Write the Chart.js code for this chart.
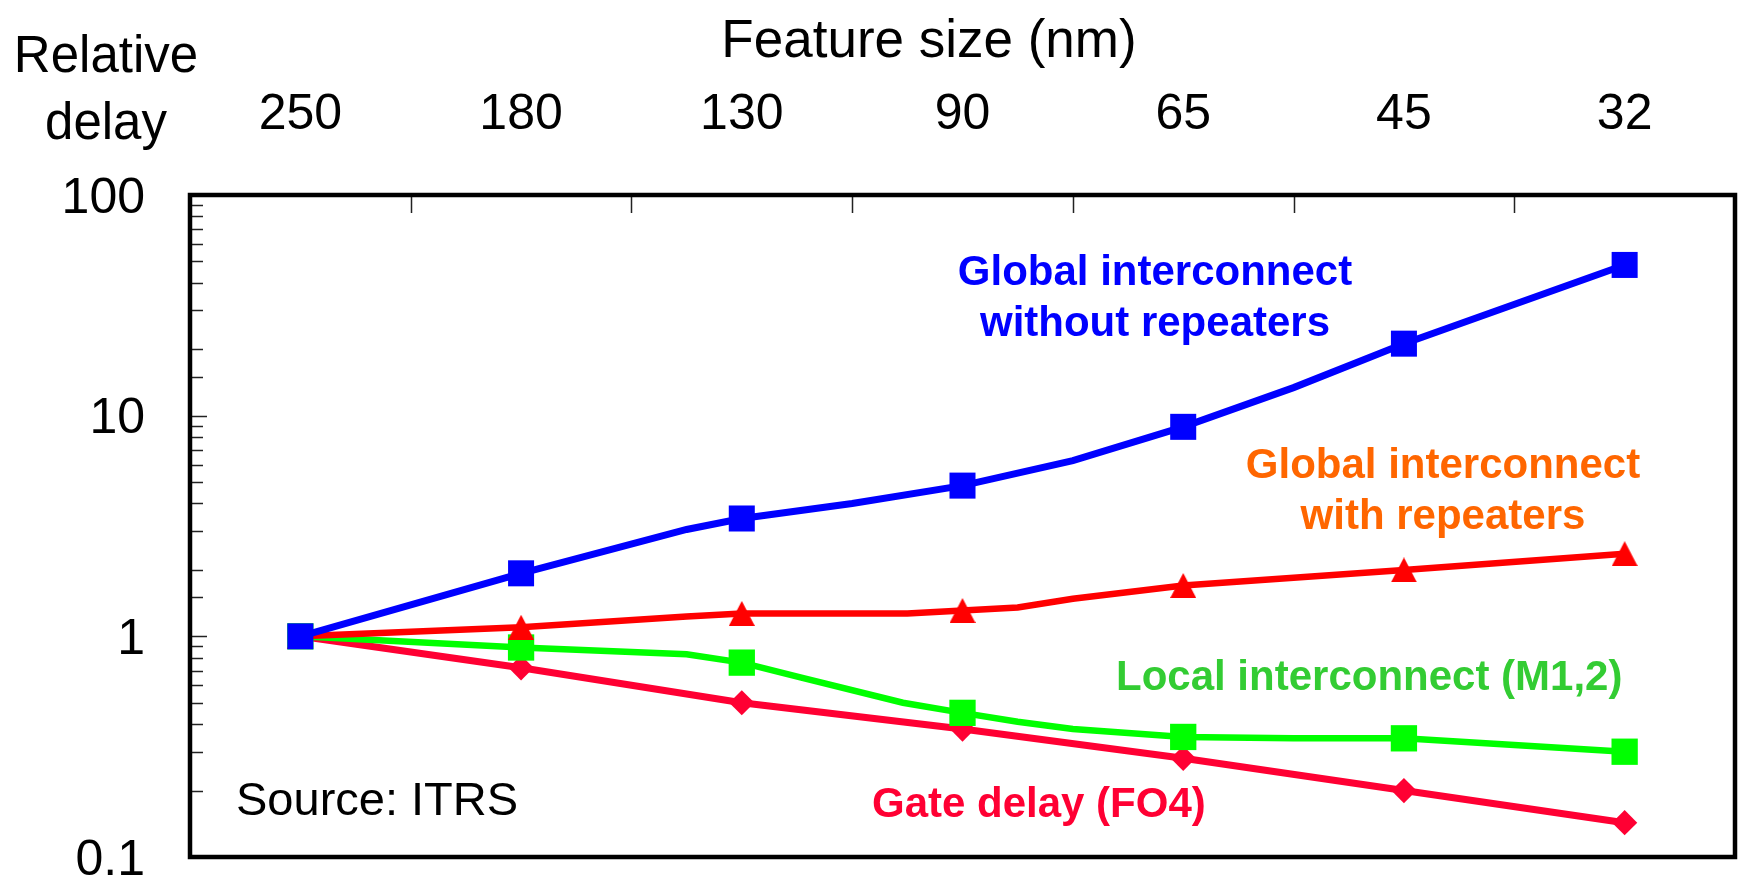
<!DOCTYPE html>
<html>
<head>
<meta charset="utf-8">
<script src="https://cdn.jsdelivr.net/npm/chart.js@4.4.1/dist/chart.umd.min.js"></script>
<style>
  html, body { margin: 0; padding: 0; background: #fff; overflow: hidden; }
  #wrap { width: 1739px; height: 881px; position: relative; }
</style>
</head>
<body>
<div id="wrap"><canvas id="grafico"></canvas></div>
<script>
const FONT = "'Liberation Sans', Arial, Helvetica, sans-serif";

const featureSizes = ['250', '180', '130', '90', '65', '45', '32'];

// x = node index (0 -> 250 nm); fractional x are the in-between nodes of the roadmap
const globalX = [0, 1, 1.75, 2, 2.5, 3, 3.5, 4, 4.5, 5, 6];
const globalY = [1, 1.93, 3.05, 3.42, 4.0, 4.82, 6.26, 8.9, 13.4, 21.2, 48.2];

const repeatX = [0, 1, 1.75, 2, 2.75, 3, 3.25, 3.5, 4, 5, 6];
const repeatY = [1, 1.10, 1.23, 1.27, 1.27, 1.31, 1.35, 1.48, 1.70, 2.0, 2.37];

const localX = [0, 1, 1.75, 2, 2.27, 2.73, 3, 3.25, 3.5, 4, 4.5, 5, 6];
const localY = [1, 0.89, 0.83, 0.76, 0.65, 0.50, 0.45, 0.41, 0.38, 0.35, 0.345, 0.345, 0.30];

const gateX = [0, 1, 2, 3, 4, 5, 6];
const gateY = [1, 0.72, 0.50, 0.38, 0.28, 0.20, 0.143];

const pts = (xs, ys) => xs.map((x, i) => ({ x: x, y: ys[i] }));
const onNode = c => c.raw && Number.isInteger(c.raw.x);
const isDecade = v => Math.abs(Math.log10(v) - Math.round(Math.log10(v))) < 1e-6;

// filled triangle used as marker for the repeater curve
function triangleMark(color, w, h) {
  const c = document.createElement('canvas');
  c.width = w; c.height = h;
  const g = c.getContext('2d');
  g.fillStyle = color;
  g.beginPath();
  g.moveTo(w / 2, 0);
  g.lineTo(w, h);
  g.lineTo(0, h);
  g.closePath();
  g.fill();
  return c;
}
const tri = triangleMark('#FF0000', 26, 25);

const notes = [
  { lines: ['Global interconnect', 'without repeaters'], color: '#0000FF', x: 1155, y: 285, align: 'center' },
  { lines: ['Global interconnect', 'with repeaters'], color: '#FF6600', x: 1443, y: 478, align: 'center' },
  { lines: ['Local interconnect (M1,2)'], color: '#33CC33', x: 1116, y: 690, align: 'left' },
  { lines: ['Gate delay (FO4)'], color: '#FF0033', x: 872, y: 817, align: 'left' }
];

// keep the plot box exactly where the axes put it, no room for label overhang
function fixBox(size, key) {
  return s => {
    s[key] = size;
    s.paddingLeft = 0; s.paddingRight = 0;
    s.paddingTop = 0; s.paddingBottom = 0;
  };
}

const frameAndTicks = {
  id: 'frameAndTicks',
  beforeDatasetsDraw(chart) {
    const { ctx, chartArea: a, scales: { x, y } } = chart;
    ctx.save();
    ctx.strokeStyle = '#222';
    ctx.lineWidth = 1.5;
    ctx.beginPath();
    y.ticks.forEach(t => {
      if (t.value <= y.min || t.value >= y.max) return;
      const py = Math.round(y.getPixelForValue(t.value)) + 0.5;
      ctx.moveTo(a.left, py);
      ctx.lineTo(a.left + (isDecade(t.value) ? 17 : 13), py);
    });
    for (let i = 0; i < featureSizes.length - 1; i++) {
      const px = Math.round(x.getPixelForValue(i + 0.5)) + 0.5;
      ctx.moveTo(px, a.top);
      ctx.lineTo(px, a.top + 18);
    }
    ctx.stroke();
    ctx.restore();
  },
  afterDraw(chart) {
    const { ctx, chartArea: a } = chart;
    ctx.save();
    ctx.strokeStyle = '#000';
    ctx.lineWidth = 4.5;
    ctx.strokeRect(a.left, a.top, a.right - a.left, a.bottom - a.top);

    ctx.fillStyle = '#000';
    ctx.textBaseline = 'alphabetic';
    ctx.textAlign = 'center';
    ctx.font = '53px ' + FONT;
    ctx.fillText('Feature size (nm)', 929, 57);
    ctx.font = '51px ' + FONT;
    ctx.fillText('Relative', 106, 72);
    ctx.fillText('delay', 106, 139);

    ctx.textAlign = 'left';
    ctx.font = '47px ' + FONT;
    ctx.fillText('Source: ITRS', 236, 815);

    ctx.font = 'bold 42px ' + FONT;
    notes.forEach(n => {
      ctx.fillStyle = n.color;
      ctx.textAlign = n.align;
      n.lines.forEach((s, i) => ctx.fillText(s, n.x, n.y + i * 51));
    });
    ctx.restore();
  }
};

const ctx = document.getElementById('grafico');

new Chart(ctx, {
  type: 'line',
  data: {
    datasets: [{
      label: 'Global interconnect without repeaters',
      data: pts(globalX, globalY),
      borderColor: '#0000FF',
      backgroundColor: '#0000FF',
      borderWidth: 7,
      pointStyle: 'rect',
      pointRadius: c => onNode(c) ? 18.4 : 0,
      pointBorderWidth: 0
    }, {
      label: 'Global interconnect with repeaters',
      data: pts(repeatX, repeatY),
      borderColor: '#FF0000',
      backgroundColor: '#FF0000',
      borderWidth: 6.5,
      pointStyle: tri,
      pointRadius: c => onNode(c) ? 13 : 0,
      pointBorderWidth: 0
    }, {
      label: 'Local interconnect (M1,2)',
      data: pts(localX, localY),
      borderColor: '#00FF00',
      backgroundColor: '#00FF00',
      borderWidth: 6.5,
      pointStyle: 'rect',
      pointRadius: c => onNode(c) ? 18.6 : 0,
      pointBorderWidth: 0
    }, {
      label: 'Gate delay (FO4)',
      data: pts(gateX, gateY),
      borderColor: '#FF0033',
      backgroundColor: '#FF0033',
      borderWidth: 7,
      pointStyle: 'rectRot',
      pointRadius: c => onNode(c) ? 12.6 : 0,
      pointBorderWidth: 0
    }]
  },
  options: {
    responsive: true,
    maintainAspectRatio: false,
    animation: false,
    layout: { autoPadding: false, padding: { top: 0, left: 0, right: 4, bottom: 24 } },
    plugins: { legend: { display: false }, tooltip: { enabled: false } },
    scales: {
      x: {
        type: 'linear',
        position: 'top',
        min: -0.5,
        max: 6.5,
        afterBuildTicks: s => { s.ticks = featureSizes.map((_, i) => ({ value: i })); },
        afterFit: fixBox(195, 'height'),
        grid: { display: false, drawTicks: false },
        border: { display: false },
        ticks: {
          autoSkip: false,
          maxRotation: 0,
          padding: 50,
          color: '#000',
          font: { size: 50, family: FONT },
          callback: v => featureSizes[v]
        }
      },
      y: {
        type: 'logarithmic',
        min: 0.1,
        max: 100,
        afterFit: fixBox(190, 'width'),
        grid: { display: false, drawTicks: false },
        border: { display: false },
        ticks: {
          autoSkip: false,
          padding: 45,
          labelOffset: 4,
          color: '#000',
          font: { size: 50, family: FONT },
          callback: v => isDecade(v) ? String(v) : ''
        }
      }
    }
  },
  plugins: [frameAndTicks]
});
</script>
</body>
</html>
